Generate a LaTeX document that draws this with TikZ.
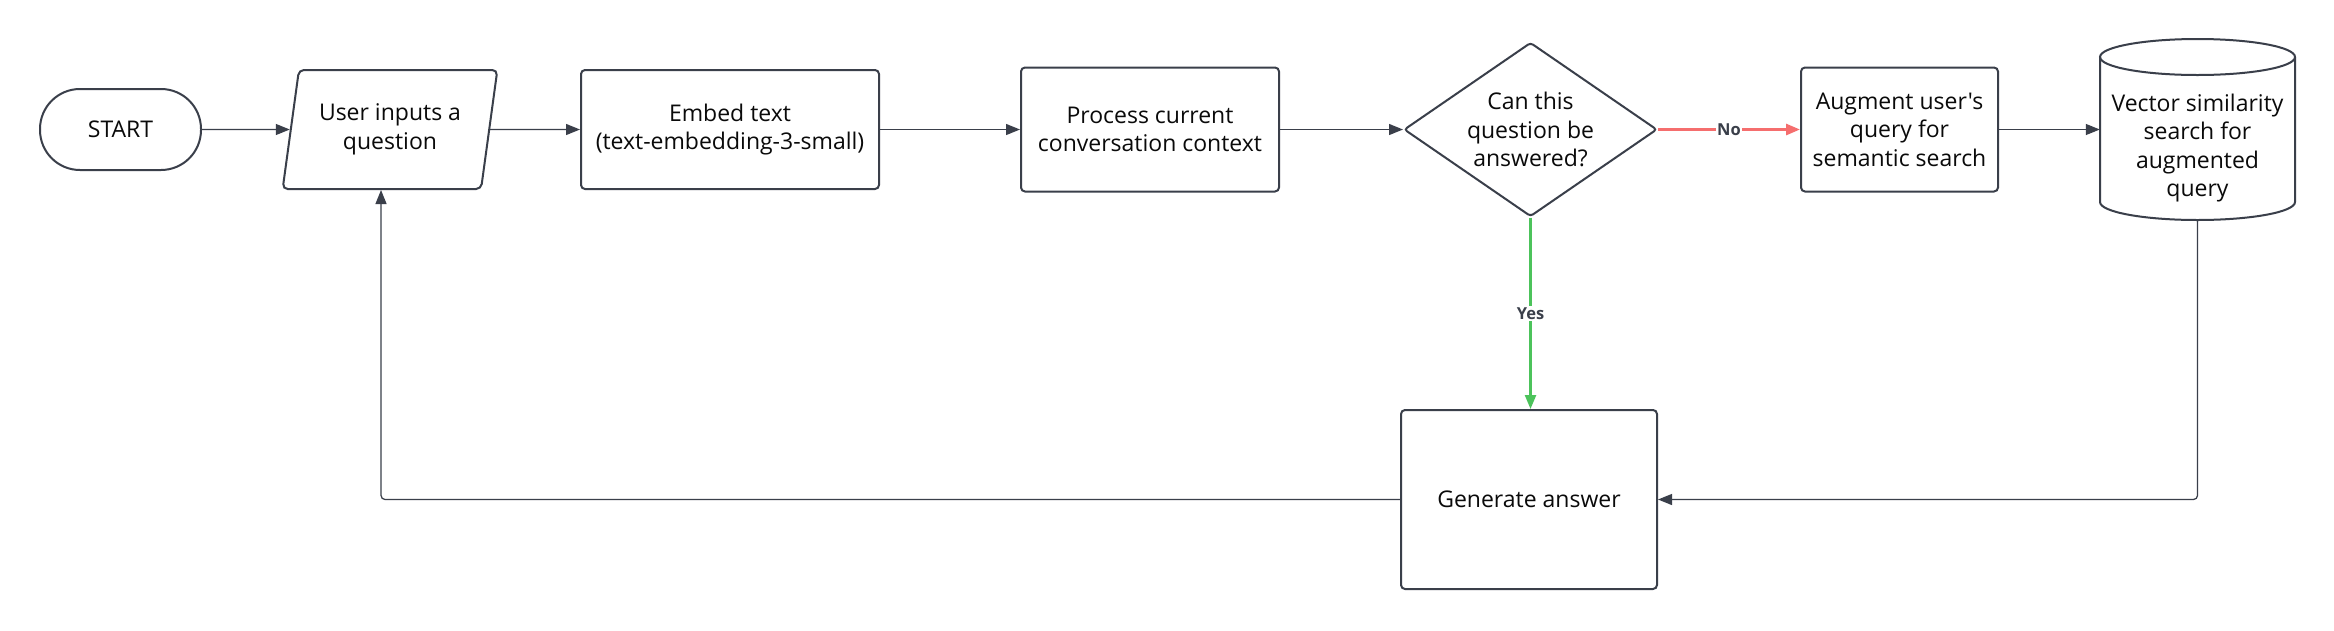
\documentclass[tikz,border=0pt]{standalone}
\usepackage{fontspec}
\setmainfont{Open Sans}[Ligatures=TeXOff]
\usetikzlibrary{arrows.meta,shapes.geometric,calc}
\definecolor{ink}{HTML}{3A3F4A}
\definecolor{nored}{HTML}{F56E6E}
\definecolor{yesgreen}{HTML}{4CC35B}
\definecolor{txt}{HTML}{0A0A0A}
\begin{document}
\begin{tikzpicture}[x=1pt,y=1pt,
  every node/.style={font=\fontsize{23}{28.5}\selectfont, text=txt, align=center},
  box/.style={draw=ink, line width=2pt, rounded corners=4pt, fill=white, inner sep=0pt},
  conn/.style={draw=ink, line width=1.25pt, -{Triangle[length=14pt,width=11pt]}},
  lbl/.style={font=\fontsize{16.5}{18}\selectfont\bfseries, text=ink, fill=white, inner sep=1.5pt}]
\useasboundingbox[fill=white] (0,0) rectangle (2334,-630);

\node[box, rounded corners=40pt, minimum width=161pt, minimum height=81pt] (start) at (120.5,-129.5) {START};
\node[box, trapezium, trapezium left angle=76, trapezium right angle=104, trapezium stretches=true,
      minimum width=215pt, minimum height=119pt, rounded corners=5pt] (user) at (390,-129.5) {User inputs a\\question};
\node[box, minimum width=298pt, minimum height=119pt] (embed) at (730,-129.5) {Embed text\\(text-embedding-3-small)};
\node[box, minimum width=258pt, minimum height=124pt] (process) at (1150,-129.5) {Process current\\conversation context};
\node[box, diamond, aspect=1.45, minimum width=253pt, minimum height=174pt, rounded corners=3pt] (q) at (1530.5,-129.5) {Can this\\question be\\answered?};
\node[box, minimum width=197pt, minimum height=124pt] (augment) at (1899.5,-129.5) {Augment user's\\query for\\semantic search};
\node[box, minimum width=256pt, minimum height=179pt] (generate) at (1529,-499.5) {Generate answer};

% cylinder
\node[minimum width=195pt, minimum height=181pt, inner sep=0pt] (vec) at (2197.5,-129.5) {};
\draw[draw=ink, line width=2pt, fill=white] (2100,-57) -- (2100,-202)
   arc[start angle=180, end angle=360, x radius=97.5, y radius=18] -- (2295,-57);
\draw[draw=ink, line width=2pt] (2197.5,-57) ellipse [x radius=97.5, y radius=18];
\node (vectext) at (2197.5,-148) {Vector similarity\\search for\\augmented\\query};

% connectors
\draw[conn] (start) -- (user);
\draw[conn] (user) -- (embed);
\draw[conn] (embed) -- (process);
\draw[conn] (process) -- (q);
\draw[conn, draw=nored, line width=2.8pt] (q) -- node[lbl]{No} (augment);
\draw[conn] (augment.east) -- (augment.east -| vec.west);
\draw[conn, draw=yesgreen, line width=2.4pt] (q.south) -- node[lbl]{Yes} (q.south |- generate.north);
\draw[conn, rounded corners=4pt] (vec.south) |- (generate.east);
\draw[conn, rounded corners=4pt] (generate.west) -| ([xshift=-9pt]user.south);
\end{tikzpicture}
\end{document}
